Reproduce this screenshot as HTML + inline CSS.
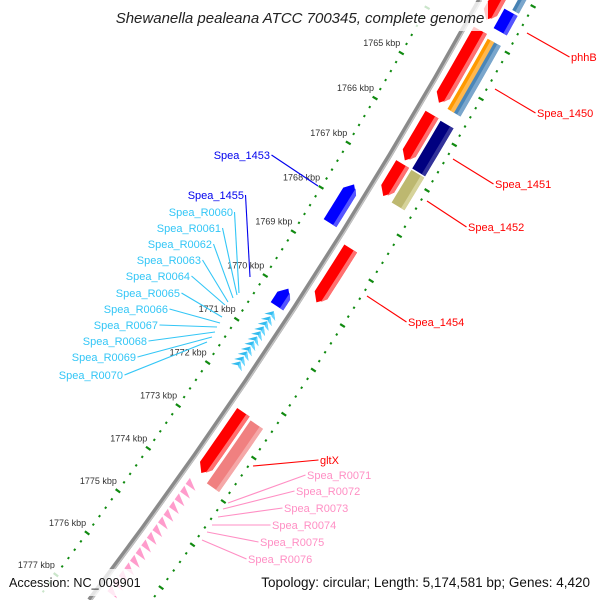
<!DOCTYPE html>
<html><head><meta charset="utf-8"><style>
html,body{margin:0;padding:0;background:#fff;width:600px;height:600px;overflow:hidden;}
svg{display:block;font-family:"Liberation Sans",sans-serif;overflow:hidden;}
</style></head><body>
<svg id="chart" width="600" height="600" viewBox="0 0 600 600" xmlns="http://www.w3.org/2000/svg">
<g id="rulers"></g>
<g id="backbone"></g>
<g id="features"></g>
<g id="leaders"></g>
<g id="labels"></g>
<rect x="108" y="2" width="380" height="29" fill="#fff" fill-opacity="0.78"/>
<text x="300" y="23" text-anchor="middle" font-size="15" font-style="italic" fill="#222">Shewanella pealeana ATCC 700345, complete genome</text>
<rect x="4" y="569" width="144" height="27" fill="#fff" fill-opacity="0.78"/>
<text x="9" y="587" font-size="12.6" fill="#111">Accession: NC_009901</text>
<rect x="255" y="569" width="342" height="27" fill="#fff" fill-opacity="0.78"/>
<text x="590" y="587" text-anchor="end" font-size="13.5" fill="#111">Topology: circular; Length: 5,174,581 bp; Genes: 4,420</text>
</svg>
<script>
// ---- data ----
const featNames = ['top-red','top-steelblue','top-blue','spea-1450','spea-1450-cog-a','spea-1450-cog-b','spea-1451','spea-1451-cog','spea-1452','spea-1452-cog','spea-1453','spea-1454','spea-1455','gltx','gltx-cog'];
const featStart = [1762.90,1762.90,1763.30,1763.88,1763.95,1763.95,1765.72,1765.74,1766.81,1766.82,1767.62,1768.69,1769.97,1772.40,1772.45];
const featEnd   = [1763.65,1763.25,1763.72,1765.46,1765.48,1765.48,1766.73,1766.79,1767.52,1767.54,1768.49,1769.90,1770.37,1773.80,1773.90];
const featStrand = [1,0,0,1,0,0,1,0,1,0,-1,1,-1,1,0];
const featTrack = ['f','c2','c','f','c1','c2','f','c','f','c','r','f','r','f','c'];
const featColor = ['#ff0000','#4682b4','#0000ff','#ff0000','#ff9900','#4a86b8','#ff0000','#000080','#ff0000','#bdb870','#0000ff','#ff0000','#0000ff','#ff0000','#f08080'];
const featLight = ['#ff7070','#7aa6cc','#5555ff','#ff7070','#ffb84d','#7aa6cc','#ff7070','#33339a','#ff7070','#d6d39a','#5555ff','#ff7070','#5555ff','#ff7070','#f5a8a8'];
const cyanTrnaPos = [1770.48,1770.60,1770.71,1770.83,1770.94,1771.06,1771.17,1771.29,1771.40,1771.52,1771.63];
const pinkTrnaPos = [1774.00,1774.18,1774.36,1774.54,1774.72,1774.90,1775.08,1775.26,1775.44,1775.62,1775.80,1775.98,1776.16,1776.34,1776.52];
const tickStart = 1762;
const tickEnd = 1778;
const tickLabelMin = 1765;
const tickLabelMax = 1777;

// ---- geometry (axis) ----
const CX=-3975, CY=-2469, K0=1765, T0=0.5228, DT=0.01033;
const R_BACK=5093, R_IN=5051, R_OUT=5143;
const TRACKS={f:[5101,5116], c:[5119,5134], c1:[5119,5126.5], c2:[5126.5,5134], r:[5070,5085]};
function P(k,r){const t=T0+(k-K0)*DT;return [CX+r*Math.cos(t), CY+r*Math.sin(t)];}
function kAtY(y,r){return K0+(Math.asin((y-CY)/r)-T0)/DT;}
function arc(a,b,r){const n=8,out=[];for(let i=0;i<=n;i++)out.push(P(a+(b-a)*i/n,r));return out;}
function pts(list){return list.map(p=>p[0].toFixed(2)+','+p[1].toFixed(2)).join(' ');}
function inFrame(p){return p[0]>=0.5&&p[0]<=599.5&&p[1]>=0.5&&p[1]<=599.5;}
const NS='http://www.w3.org/2000/svg';
function mk(tag,parent,attrs){const e=document.createElementNS(NS,tag);for(const k in attrs)e.setAttribute(k,attrs[k]);parent.appendChild(e);return e;}

// rulers
const gR=document.getElementById('rulers');
[R_IN,R_OUT].forEach((r,ri)=>{
  for(let i=Math.round(tickStart*5);i<=Math.round(tickEnd*5);i++){
    const k=i/5;
    const major=(i%5===0);
    const a=P(k, r-(major?2.8:1)), b=P(k, r+(major?2.8:1));
    if(!inFrame(a)||!inFrame(b))continue;
    const l=mk('line',gR,{x1:a[0],y1:a[1],x2:b[0],y2:b[1],stroke:'#108a10','stroke-width':2.2});
    
    
    if(ri===0 && major && k>=tickLabelMin && k<=tickLabelMax){
      const p=P(k,r);
      const t=mk('text',gR,{x:(p[0]-1).toFixed(1),y:(p[1]-7).toFixed(1),'text-anchor':'end','font-size':'9',fill:'#333'});
      t.textContent=k+' kbp';
      
      
    }
  }
});

// backbone
const gB=document.getElementById('backbone');
function arcPath(r){const a=arc(kAtY(0,r),kAtY(600,r),r);return 'M'+a.map(p=>p[0].toFixed(2)+' '+p[1].toFixed(2)).join(' L');}
const bb=mk('path',gB,{d:arcPath(R_BACK),fill:'none',stroke:'#8a8a8a','stroke-width':5});


const bh=mk('path',gB,{d:arcPath(R_BACK+1.6),fill:'none',stroke:'#c4c4c4','stroke-width':1.4});



// features
const gF=document.getElementById('features');
const H=0.16;
for(let i=0;i<featNames.length;i++){
  const a=featStart[i], b=featEnd[i], tr=TRACKS[featTrack[i]], r1=tr[0], r2=tr[1], rm=(r1+r2)/2, s=featStrand[i];
  let poly, stripe;
  if(s===1){
    poly=arc(a,b-H,r2).concat([P(b,rm)]).concat(arc(b-H,a,r1));
    stripe=arc(a,b-H,r2).concat([P(b-H*0.3,r2-4)]).concat(arc(b-H*0.3,a,r2-4));
  } else if(s===-1){
    poly=[P(a,rm)].concat(arc(a+H,b,r2)).concat(arc(b,a+H,r1));
    stripe=[P(a+H*0.3,r2-4)].concat(arc(a+H,b,r2)).concat(arc(b,a+H*0.3,r2-4));
  } else {
    poly=arc(a,b,r2).concat(arc(b,a,r1));
    stripe=arc(a,b,r2).concat(arc(b,a,r2-4));
  }
  const g=mk('g',gF,{});
  
  
  const p=mk('polygon',g,{points:pts(poly),fill:featColor[i]});
  
  
  const st=mk('polygon',g,{points:pts(stripe),fill:featLight[i]});
  
  
}
cyanTrnaPos.forEach(k=>{
  const tr=TRACKS.r, r1=tr[0]+1, r2=tr[1]-1, rm=(r1+r2)/2;
  const p=mk('polygon',gF,{points:pts([P(k,rm),P(k+0.14,r2),P(k+0.09,rm),P(k+0.14,r1)]),fill:'#33bbee'});
  
  
  const q=mk('polygon',gF,{points:pts([P(k,rm),P(k+0.14,r2),P(k+0.11,rm+1)]),fill:'#66d6ff'});
  
  
});
pinkTrnaPos.forEach(k=>{
  const tr=TRACKS.f, r1=tr[0]+1, r2=tr[1]-2;
  const p=mk('polygon',gF,{points:pts([P(k,r1),P(k+0.14,r1),P(k+0.14,r2)]),fill:'#ff9ccc'});
  
  
});

// labels & leaders
const labelText=['phhB','Spea_1450','Spea_1451','Spea_1452','Spea_1454','gltX','Spea_R0071','Spea_R0072','Spea_R0073','Spea_R0074','Spea_R0075','Spea_R0076','Spea_1453','Spea_1455','Spea_R0060','Spea_R0061','Spea_R0062','Spea_R0063','Spea_R0064','Spea_R0065','Spea_R0066','Spea_R0067','Spea_R0068','Spea_R0069','Spea_R0070'];
const labelX=[571,537,495,468,408,320,307,296,284,272,260,248,270,244,233,221,212,201,190,180,168,158,147,136,123];
const labelY=[57,113,184,227,322,460,475,491,508,525,542,559,155,195,212,228,244,260,276,293,309,325,341,357,375];
const labelSide=[1,1,1,1,1,1,1,1,1,1,1,1,-1,-1,-1,-1,-1,-1,-1,-1,-1,-1,-1,-1,-1];
const leaderFrom=[[527,33],[495,89],[453,159],[427,201],[367,296],[253,466],[228,503],[223,509],[218,517],[212,525],[207,532],[202,540],[318,186],[250,277],[239,293],[237,295],[233,298],[228,302],[225,305],[222,317],[220,323],[217,327],[215,332],[212,337],[207,342]];
const labelColor=['#ff0000','#ff0000','#ff0000','#ff0000','#ff0000','#ff0000','#ff8fc4','#ff8fc4','#ff8fc4','#ff8fc4','#ff8fc4','#ff8fc4','#0000ee','#0000ee','#33c6f6','#33c6f6','#33c6f6','#33c6f6','#33c6f6','#33c6f6','#33c6f6','#33c6f6','#33c6f6','#33c6f6','#33c6f6'];
const gL=document.getElementById('leaders'), gT=document.getElementById('labels');
for(let i=0;i<labelText.length;i++){
  const sx=labelX[i]-labelSide[i]*1.5;
  const l=mk('line',gL,{x1:leaderFrom[i][0],y1:leaderFrom[i][1],x2:sx,y2:labelY[i],stroke:labelColor[i],'stroke-width':1.1});
  
  
  const t=mk('text',gT,{x:labelX[i],y:labelY[i]+4,'text-anchor':labelSide[i]>0?'start':'end','font-size':'11',fill:labelColor[i]});
  t.textContent=labelText[i];
  
  
}
</script>
</body></html>
